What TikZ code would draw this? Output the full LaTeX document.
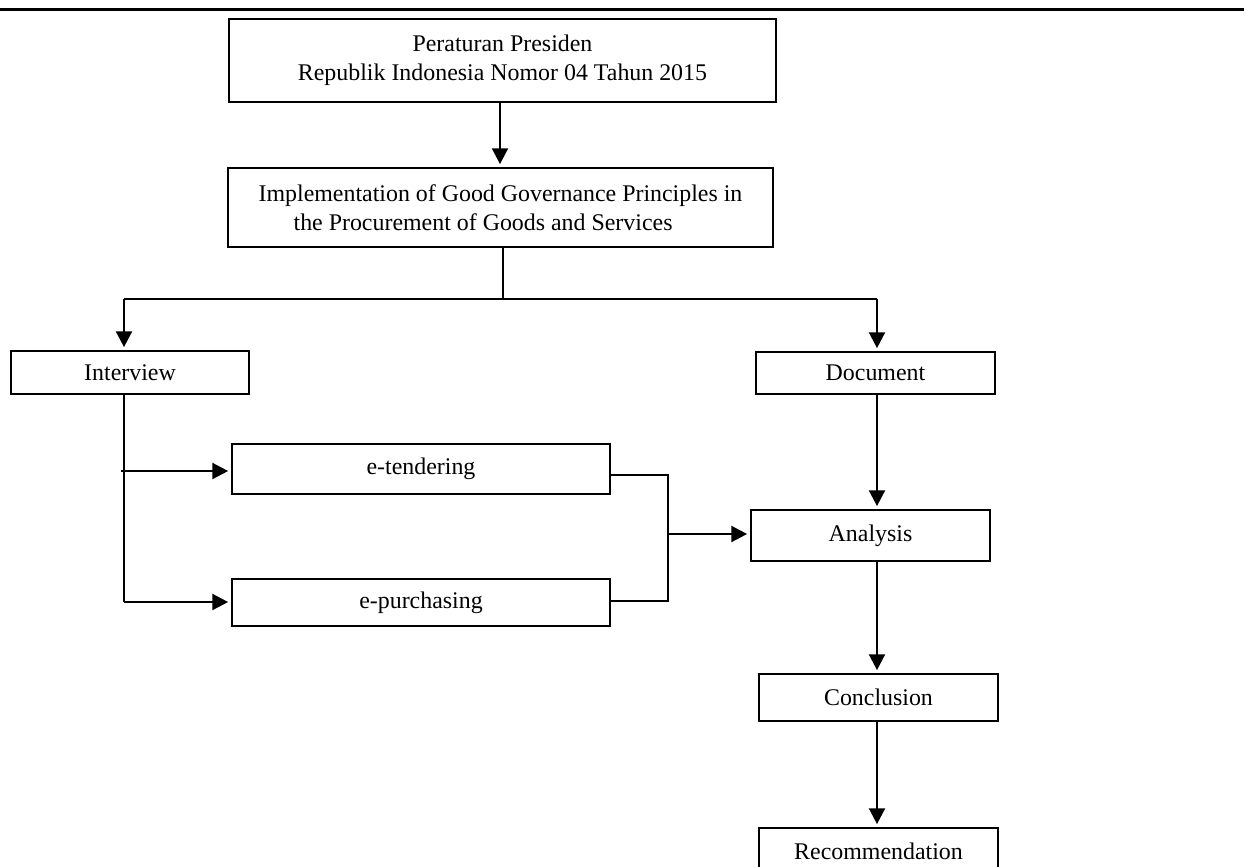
\documentclass[tikz,border=0pt]{standalone}
\usepackage{fontspec}
\setmainfont{Liberation Serif}
\usepackage{tikz}
\usetikzlibrary{arrows.meta}

\begin{document}
\begin{tikzpicture}[x=0.02cm, y=-0.02cm,
        box/.style={draw, line width=0.85pt, inner sep=0pt, outer sep=0pt,
            font=\fontsize{13.6}{16.5}\selectfont},
        arr/.style={line width=1.45pt, shorten >=2.2pt, -{Triangle[length=9pt, width=9pt]}},
        ln/.style={line width=0.9pt}]
    \useasboundingbox (0,0) rectangle (1244,866);
    \draw[line width=2.1pt] (0,9.5) -- (1244,9.5);

    \node[box, minimum width=10.94cm, minimum height=1.66cm, align=center] (perpres) at (502.5,60.5)
        {Peraturan Presiden\\Republik Indonesia Nomor 04 Tahun 2015};
    \node[box, minimum width=10.9cm, minimum height=1.58cm, align=left] (impl) at (500.5,207.5)
        {Implementation of Good Governance Principles in\\\hspace*{0.7cm}the Procurement of Goods and Services};
    \node[box, minimum width=4.76cm, minimum height=0.86cm] (interview) at (130,372.5) {Interview};
    \node[box, minimum width=4.78cm, minimum height=0.84cm] (document) at (875.5,373) {Document};
    \node[box, minimum width=7.56cm, minimum height=1cm] (etender) at (421,469) {e-tendering};
    \node[box, minimum width=7.56cm, minimum height=0.94cm] (epurch) at (421,602.5) {e-purchasing};
    \node[box, minimum width=4.78cm, minimum height=1.02cm] (analysis) at (870.5,535.5) {Analysis};
    \node[box, minimum width=4.78cm, minimum height=0.94cm] (conclusion) at (878.5,697.5) {Conclusion};
    \node[box, minimum width=4.78cm, minimum height=0.94cm] (recommend) at (878.5,851.5) {Recommendation};

    \coordinate (split) at (503,299);
    \coordinate (join) at (668,534);

    \draw[arr] (perpres.south -| 500,0) -- (impl.north -| 500,0);
    \draw[line width=1.45pt] (impl.south -| split) -- (split);
    \draw[line width=1.45pt] (124,299) -- (877,299);
    \draw[arr] (124,299) -- (interview.north -| 124,0);
    \draw[arr] (877,299) -- (document.north -| 877,0);

    \draw[line width=1.45pt] (interview.south -| 124,0) -- (124,602);
    \draw[arr] (121,471) -- (etender.west |- 0,471);
    \draw[arr] (124,602) -- (epurch.west |- 0,602);

    \draw[ln] (etender.east |- 0,475) -| (join) |- (epurch.east |- 0,601);
    \draw[arr] (join) -- (analysis.west |- join);

    \draw[arr] (document.south -| 877,0) -- (analysis.north -| 877,0);
    \draw[arr] (analysis.south -| 877,0) -- (conclusion.north -| 877,0);
    \draw[arr] (conclusion.south -| 877,0) -- (recommend.north -| 877,0);
\end{tikzpicture}
\end{document}
